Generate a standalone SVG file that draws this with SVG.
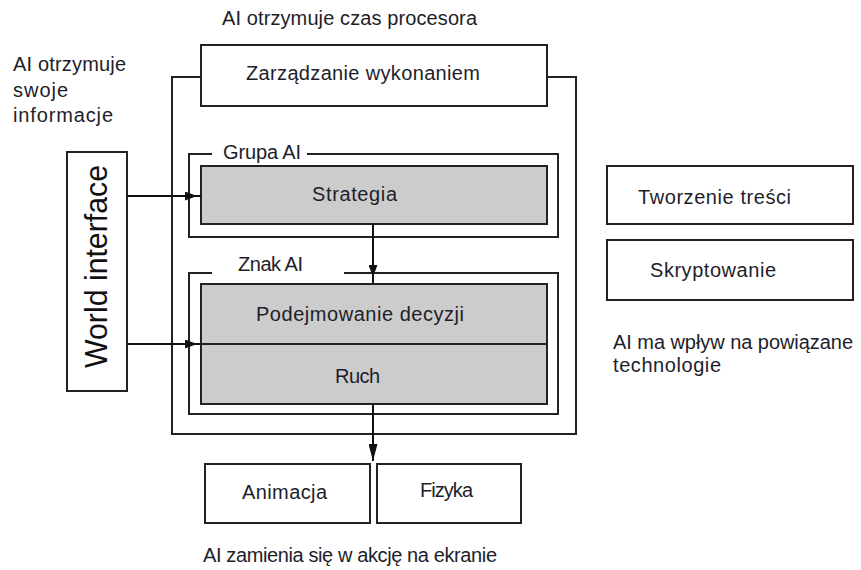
<svg xmlns="http://www.w3.org/2000/svg" width="861" height="570" viewBox="0 0 861 570">
<style>
  .box { fill: #ffffff; stroke: #222; stroke-width: 2; }
  .grey { fill: #cccccc; stroke: #222; stroke-width: 2; }
  .frame { fill: none; stroke: #222; stroke-width: 2; }
  .conn { fill: none; stroke: #111; stroke-width: 2; }
  text { font-family: "Liberation Sans", Arial, sans-serif; font-size: 20px; fill: #1e1e2a; }
  .big { font-size: 31px; fill: #111; }
</style>
<defs>
  <marker id="arrS" markerUnits="userSpaceOnUse" markerWidth="12" markerHeight="9" refX="12" refY="4.5" orient="auto">
    <path d="M0,0 L12,4.5 L0,9 z" fill="#111"/>
  </marker>
  <marker id="arrL" markerUnits="userSpaceOnUse" markerWidth="17" markerHeight="9" refX="17" refY="4.5" orient="auto">
    <path d="M0,0 L17,4.5 L0,9 z" fill="#111"/>
  </marker>
</defs>
<rect width="861" height="570" fill="#ffffff"/>

<g id="title-top"><text x="222" y="25" textLength="255">AI otrzymuje czas procesora</text></g>
<g id="note-left">
  <text x="13" y="71" textLength="113">AI otrzymuje</text>
  <text x="13" y="97" textLength="55">swoje</text>
  <text x="13" y="122" textLength="100">informacje</text>
</g>

<g id="execution-frame">
  <path class="frame" d="M201,77 H172 V434 H576 V77 H547"/>
</g>
<g id="zarzadzanie">
  <rect class="box" x="201" y="45" width="346" height="61"/>
  <text x="246" y="80" textLength="234">Zarządzanie wykonaniem</text>
</g>

<g id="grupa-ai">
  <path class="frame" d="M212,154 H189 V237 H558 V154 H307"/>
  <text x="223" y="159" textLength="78">Grupa AI</text>
</g>
<g id="strategia">
  <rect class="grey" x="201" y="166" width="346" height="58"/>
  <text x="312" y="201" textLength="85">Strategia</text>
</g>

<g id="znak-ai">
  <path class="frame" d="M212,273 H189 V414 H558 V273 H344"/>
  <text x="238" y="271" textLength="65">Znak AI</text>
</g>
<g id="podejmowanie-ruch">
  <rect class="grey" x="201" y="284" width="346" height="120"/>
  <line class="frame" x1="201" y1="344" x2="547" y2="344"/>
  <text x="256" y="321" textLength="208">Podejmowanie decyzji</text>
  <text x="335" y="383" textLength="45">Ruch</text>
</g>

<g id="world-interface">
  <rect class="box" x="67" y="152" width="60" height="239"/>
  <text class="big" transform="translate(107,368) rotate(-90)" x="0" y="0" textLength="203" lengthAdjust="spacingAndGlyphs">World interface</text>
</g>

<g id="animacja">
  <rect class="box" x="205" y="464" width="165" height="59"/>
  <text x="242" y="499" textLength="85">Animacja</text>
</g>
<g id="fizyka">
  <rect class="box" x="377" y="464" width="144" height="59"/>
  <text x="420" y="497" textLength="53">Fizyka</text>
</g>
<g id="note-bottom"><text x="203" y="562" textLength="294">AI zamienia się w akcję na ekranie</text></g>

<g id="tworzenie">
  <rect class="box" x="607" y="166" width="246" height="58"/>
  <text x="638" y="204" textLength="153">Tworzenie treści</text>
</g>
<g id="skryptowanie">
  <rect class="box" x="607" y="240" width="246" height="60"/>
  <text x="650" y="277" textLength="126">Skryptowanie</text>
</g>
<g id="note-right">
  <text x="613" y="349" textLength="240">AI ma wpływ na powiązane</text>
  <text x="613" y="372" textLength="108">technologie</text>
</g>

<g id="connectors">
  <path class="conn" d="M127,196 H197 H201" marker-mid="url(#arrS)"/>
  <path class="conn" d="M127,344 H197 H201" marker-mid="url(#arrS)"/>
  <path class="conn" d="M373,224 V277 V284" marker-mid="url(#arrS)"/>
  <path class="conn" d="M373,404 V461" marker-end="url(#arrL)"/>
</g>
</svg>
